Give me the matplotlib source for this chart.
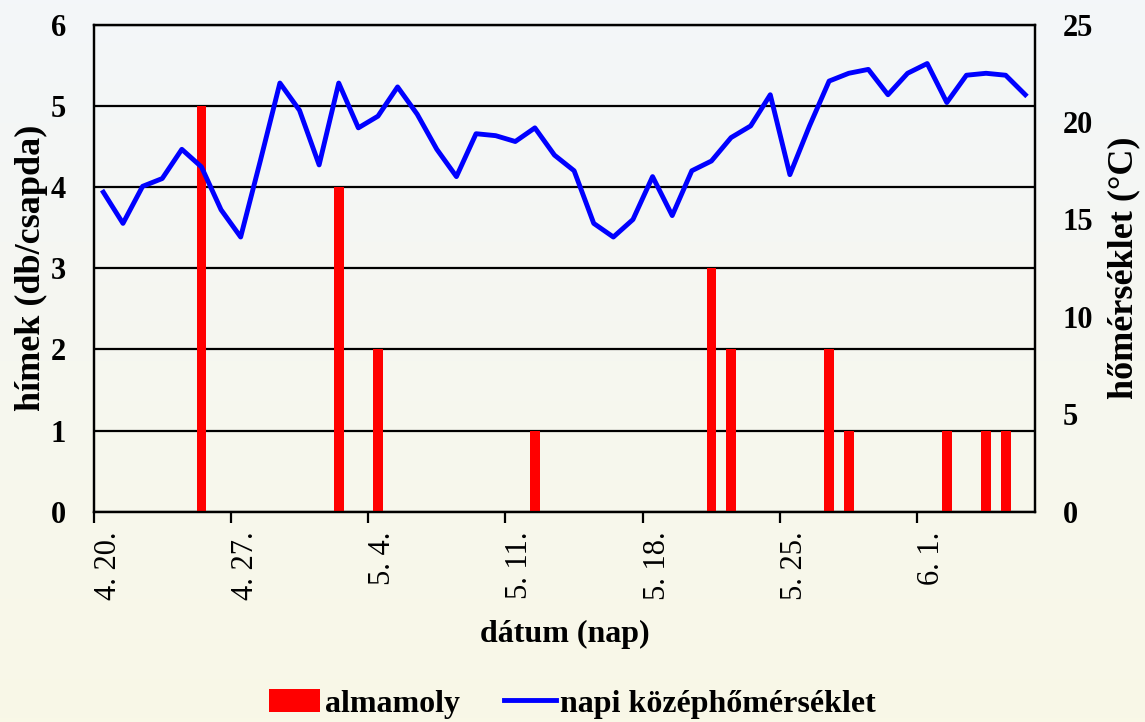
import matplotlib.pyplot as plt
import numpy as np

# almamoly fogás és napi középhőmérséklet, 4.20. - 6.6.
plt.rcParams['font.family'] = ['Liberation Serif', 'DejaVu Serif']

# fogott hímek száma naponta (db/csapda)
almamoly = [0, 0, 0, 0, 0, 5, 0, 0, 0, 0, 0, 0, 4, 0, 2, 0,
            0, 0, 0, 0, 0, 0, 1, 0, 0, 0, 0, 0, 0, 0, 0, 3,
            2, 0, 0, 0, 0, 2, 1, 0, 0, 0, 0, 1, 0, 1, 1, 0]

# napi középhőmérséklet (°C)
homerseklet = [16.4, 14.8, 16.7, 17.1, 18.6, 17.7, 15.5, 14.1, 18.0, 22.0, 20.6, 17.8,
               22.0, 19.7, 20.3, 21.8, 20.4, 18.6, 17.2, 19.4, 19.3, 19.0, 19.7, 18.3,
               17.5, 14.8, 14.1, 15.0, 17.2, 15.2, 17.5, 18.0, 19.2, 19.8, 21.4, 17.3,
               19.8, 22.1, 22.5, 22.7, 21.4, 22.5, 23.0, 21.0, 22.4, 22.5, 22.4, 21.4]

tick_labels = ["4. 20.", "4. 27.", "5. 4.", "5. 11.", "5. 18.", "5. 25.", "6. 1."]

n = len(almamoly)
x = np.arange(n) + 0.5  # az oszlopok a napok közepén
tick_pos = np.arange(len(tick_labels)) * 7

fig = plt.figure(figsize=(11.45, 7.22), dpi=100)

# háttér színátmenet (felül kékes-fehér, alul krém)
bg = fig.add_axes([0, 0, 1, 1], zorder=-10)
top_c = np.array([243, 246, 249]) / 255
bot_c = np.array([249, 248, 231]) / 255
t = np.linspace(0, 1, 200)[:, None, None]
grad = top_c * (1 - t) + bot_c * t
bg.imshow(np.repeat(grad, 2, axis=1), aspect='auto', extent=[0, 1, 0, 1])
bg.axis('off')

ax = fig.add_axes([0.0817, 0.291, 0.8223, 0.675])
ax.set_facecolor('none')
ax.bar(x, almamoly, width=0.5, color='#ff0000', label='almamoly', zorder=3)
ax.set_xlim(0, n)
ax.set_ylim(0, 6)
ax.set_yticks(range(7))
ax.yaxis.grid(True, color='black', linewidth=1.6, zorder=1)
ax.set_axisbelow(True)
ax.set_xticks(tick_pos)
ax.set_xticklabels(tick_labels, rotation=90, ha='left', va='top', fontsize=22)
ax.tick_params(axis='x', length=8, width=1.6, direction='out', pad=6)
ax.tick_params(axis='y', length=0, pad=20, labelsize=22)
for lab in ax.get_yticklabels():
    lab.set_fontweight('bold')
for s in ax.spines.values():
    s.set_linewidth(1.6)
ax.set_xlabel("dátum (nap)", fontsize=23, fontweight='bold', labelpad=14)
ax.set_ylabel("hímek (db/csapda)", fontsize=26, fontweight='bold', labelpad=2)

ax2 = ax.twinx()
ax2.plot(x, homerseklet, color='#0000ff', linewidth=3.5, label='napi középhőmérséklet', zorder=4)
ax2.set_ylim(0, 25)
ax2.set_yticks(range(0, 26, 5))
ax2.tick_params(axis='y', length=0, pad=20, labelsize=22)
for lab in ax2.get_yticklabels():
    lab.set_fontweight('bold')
for s in ax2.spines.values():
    s.set_linewidth(1.6)
ax2.set_ylabel("hőmérséklet (°C)", fontsize=26, fontweight='bold', labelpad=10)

h1, l1 = ax.get_legend_handles_labels()
h2, l2 = ax2.get_legend_handles_labels()
fig.legend(h1 + h2, l1 + l2, loc='center', bbox_to_anchor=(0.5, 0.025), ncol=2,
           frameon=False, prop={'weight': 'bold', 'size': 23},
           handlelength=1.6, handleheight=0.7, handletextpad=0.15, columnspacing=1.4)

fig.savefig("out.png", dpi=100)
